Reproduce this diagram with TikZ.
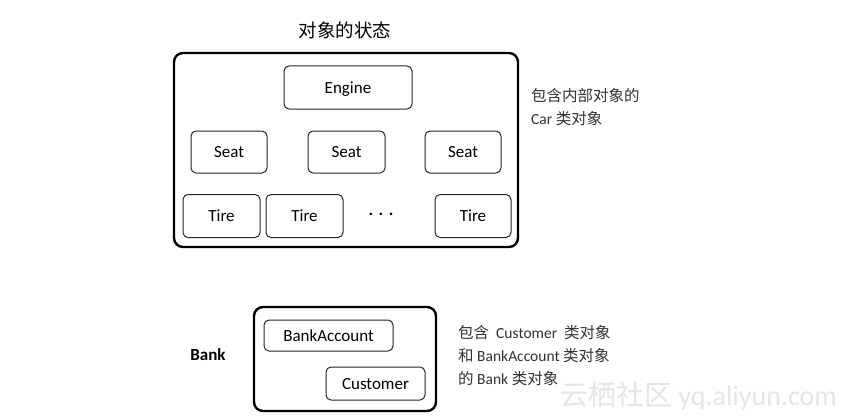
\documentclass[tikz,border=0pt]{standalone}
\usepackage{fontspec}
\setmainfont{Carlito}
\newfontfamily\cjk{Noto Sans CJK SC}
\begin{document}
\begin{tikzpicture}[x=1pt,y=-1pt,
  inner/.style={draw=black!85,line width=1pt,rounded corners=5pt,font=\fontsize{17}{19}\selectfont,text height=11pt,text depth=0pt},
  outer/.style={draw=black,line width=2.4pt,rounded corners=9pt},
  note/.style={anchor=west,align=left,font=\fontsize{15.5}{23}\selectfont,text=black!80,inner sep=0pt}]
\useasboundingbox (0,0) rectangle (852,420);
\fill[white] (0,0) rectangle (852,420);
% Car
\node[font=\cjk\fontsize{18.5}{20}\selectfont] (title) at (345,30) {对象的状态};
\draw[outer] (174,53) rectangle (518,247);
\node[inner,minimum width=128pt,minimum height=43pt] (engine) at (348,87.5) {Engine};
\node[inner,minimum width=76pt,minimum height=42pt] (seat1) at (229,152) {Seat};
\node[inner,minimum width=77pt,minimum height=42pt] (seat2) at (346.5,152) {Seat};
\node[inner,minimum width=76pt,minimum height=42pt] (seat3) at (463,152) {Seat};
\node[inner,minimum width=77pt,minimum height=43pt] (tire1) at (221.5,216) {Tire};
\node[inner,minimum width=77pt,minimum height=43pt] (tire2) at (304.5,216) {Tire};
\node[font=\bfseries\fontsize{17}{19}\selectfont] (dots) at (381,214) {.\,\,.\,\,.};
\node[inner,minimum width=76pt,minimum height=43pt] (tire3) at (473,216) {Tire};
\node[note] (carnote) at (531,107) {{\cjk 包含内部对象的}\\Car {\cjk 类对象}};
% Bank
\node[font=\bfseries\fontsize{17}{19}\selectfont] (bank) at (208,355) {Bank};
\draw[outer] (254,307) rectangle (436,411);
\node[inner,minimum width=129pt,minimum height=31pt] (acct) at (328.5,335.5) {BankAccount};
\node[inner,minimum width=99pt,minimum height=33pt] (cust) at (375.5,383.5) {Customer};
\node[note] (banknote) at (458,356) {{\cjk 包含}\ \ Customer\ \ {\cjk 类对象}\\{\cjk 和} BankAccount\ {\cjk 类对象}\\{\cjk 的} Bank {\cjk 类对象}};
% watermark
\node[anchor=west,text=black!10,font=\fontsize{28}{30}\selectfont,inner sep=0pt] (wm) at (560,396) {{\cjk 云栖社区} yq.aliyun.com};
\end{tikzpicture}
\end{document}
